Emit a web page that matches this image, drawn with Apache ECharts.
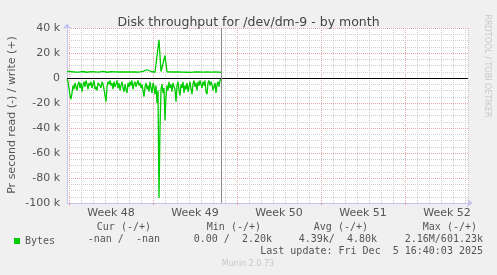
<!DOCTYPE html>
<html><head><meta charset="utf-8">
<script src="https://cdn.jsdelivr.net/npm/echarts@6/dist/echarts.min.js"></script>
<style>html,body{margin:0;padding:0;background:#f0f0f0}#c{width:497px;height:275px}</style>
</head><body><div id="c"></div>
<script>
// ---- data (k = thousands of bytes per second), days relative to start of Week 48 ----
const readStartDay = -1/6;
const readStepDay = 1/12;     // 2-hour samples
const readK = [
  -1,-3,-8,-14,-17,-12,
  -6,-9,-4,-7,-10,-5,-3,-8,
  -4,-11,-6,-3,-7,-2,-5,-9,-4,-6,
  -3,-8,-5,-2,-9,-7,-10,-4,-3,-6,
  -8,-3,-5,-9,-14,-19,-7,-3,-5,-2,
  -6,-4,-9,-3,-7,-5,-2,-8,-4,-10,
  -6,-3,-8,-11,-5,-9,-12,-4,-7,-3,
  -6,-2,-9,-5,-3,-7,-4,-2,-6,-4,
  -8,-5,-10,-15,-7,-4,-9,-6,-11,-3,
  -8,-12,-4,-7,-13,-6,-20,-10,-96,-40,
  -9,-5,-12,-8,-34,-15,-6,-10,-3,-8,
  -5,-11,-4,-7,-9,-19,-6,-3,-10,-14,
  -5,-8,-3,-12,-6,-9,-4,-11,-7,-3,
  -9,-13,-5,-2,-7,-4,-10,-3,-6,-2,
  -5,-8,-3,-6,-2,-11,-13,-4,-2,-6,
  -3,-5,-10,-7,-4,-12,-5,-3,-7,-2,-1
];
const writeStartDay = -1/6;
const writeStepDay = 1/6;     // 4-hour samples
const writeK = [5.2,5.0,5.1,4.9,4.8,5.0,4.7,4.9,5.2,4.8,4.6,4.9,5.1,4.8,4.9,5.0,4.7,4.8,5.3,4.9,4.6,4.8,5.0,4.7,4.9,5.1,4.8,4.7,4.9,5.0,4.8,4.6,4.9,5.1,4.8,4.9,4.7,5.0,5.3,5.8,6.6,6.2,5.2,4.9,4.6,5.5,30.5,5.2,4.9,18.0,5.0,4.6,4.8,4.7,4.9,4.6,4.8,4.5,4.7,4.9,4.6,4.8,4.5,4.7,4.9,4.6,4.8,4.5,4.7,4.6,4.8,4.5,4.7,4.6,4.8,4.5,4.7,4.6];
const nowDay = 12.667;
const weekLabels = ['Week 48','Week 49','Week 50','Week 51','Week 52'];
const yTicks = [40000,20000,0,-20000,-40000,-60000,-80000,-100000];
const colHeaders = ['Cur (-/+)','Min (-/+)','Avg (-/+)','Max (-/+)'];
const colValues = ['-nan /  -nan','0.00 /  2.20k','4.39k/  4.80k','2.16M/601.23k'];
const lastUpdate = 'Last update: Fri Dec  5 16:40:03 2025';

const readData = readK.map((v,i)=>[readStartDay+i*readStepDay, v*1000]);
const writeData = writeK.map((v,i)=>[writeStartDay+i*writeStepDay, v*1000]);

const RED = '#e8a4a4', GRAY = '#cfcfcf', TXT = '#555', GREEN = '#00cc00';
const headerRight = [151,261,368,477];
const valueRight = [160,272,377,483];

const chart = echarts.init(document.getElementById('c'), null, {renderer:'canvas'});
const graphics = [];
colHeaders.forEach((t,i)=>graphics.push({type:'text',right:497-headerRight[i],top:222,style:{text:t,font:'10px "DejaVu Sans Mono"',fill:TXT}}));
colValues.forEach((t,i)=>graphics.push({type:'text',right:497-valueRight[i],top:234,style:{text:t,font:'10px "DejaVu Sans Mono"',fill:TXT}}));
graphics.push({type:'text',right:497-483,top:246,style:{text:lastUpdate,font:'10px "DejaVu Sans Mono"',fill:TXT}});
graphics.push({type:'text',x:248,y:264,style:{text:'Munin 2.0.73',font:'8px "DejaVu Sans"',fill:'#c8c8c8',textAlign:'center',textVerticalAlign:'middle'}});
graphics.push({type:'text',x:12,y:115,rotation:Math.PI/2,style:{text:'Pr second read (-) / write (+)',font:'11px "DejaVu Sans"',fill:TXT,textAlign:'center',textVerticalAlign:'middle'}});
graphics.push({type:'text',x:487,y:66,rotation:-Math.PI/2,style:{text:'RRDTOOL / TOBI OETIKER',font:'8px "DejaVu Sans"',fill:'#c8c8c8',textAlign:'center',textVerticalAlign:'middle'}});

const yColors = [RED,GRAY,GRAY,GRAY];
const xColors = [RED,GRAY,GRAY,GRAY,GRAY,GRAY,GRAY];
const arrowLine = {show:true,onZero:false,lineStyle:{color:'#c4c4ee',width:1},symbol:['none','arrow'],symbolSize:[6,6],symbolOffset:[0,5]};

chart.setOption({
  backgroundColor:'#f0f0f0',
  animation:false,
  title:{text:'Disk throughput for /dev/dm-9 - by month',left:'center',top:11,textStyle:{fontFamily:'DejaVu Sans',fontSize:12.5,fontWeight:'normal',color:'#444'}},
  legend:{data:['Bytes'],left:9,top:231,icon:'rect',itemWidth:6,itemHeight:6,itemGap:5,textStyle:{fontFamily:'DejaVu Sans Mono',fontSize:10,color:TXT},selectedMode:false},
  grid:[
    {left:67,width:401,top:28,height:175,show:true,backgroundColor:'#fff',borderWidth:0},
    {left:69,width:399,top:28,height:175,show:false},
    {left:111,width:357,top:28,height:175,show:false}
  ],
  xAxis:[
    {type:'value',gridIndex:0,min:-1/6,max:33.25,axisLabel:{show:false},axisTick:{show:false},splitLine:{show:false},axisLine:arrowLine,z:3},
    {type:'value',gridIndex:1,min:0,max:33.25,interval:1,axisLine:{show:false},axisTick:{show:false},axisLabel:{show:false},
     splitLine:{show:true,lineStyle:{type:[1,1],color:xColors,width:1}},z:1},
    {type:'value',gridIndex:2,min:0,max:29.75,interval:7,axisLine:{show:false},axisTick:{show:false},splitLine:{show:false},
     axisLabel:{show:true,showMaxLabel:false,hideOverlap:false,formatter:(v)=>(v%7===0?weekLabels[v/7]:''),fontFamily:'DejaVu Sans',fontSize:11,color:TXT,margin:5}},
    {type:'value',gridIndex:1,position:'bottom',min:0,max:33.25,interval:7,axisLine:{show:false},axisLabel:{show:false},splitLine:{show:false},
     axisTick:{show:true,length:2,lineStyle:{color:'#e08080'}}}
  ],
  yAxis:[
    {type:'value',gridIndex:0,min:-100000,max:40000,interval:5000,axisLine:arrowLine,axisTick:{show:false},z:3,
     axisLabel:{fontFamily:'DejaVu Sans',fontSize:11,color:TXT,margin:7,
       formatter:(v)=>yTicks.indexOf(v)<0?'':(v===0?'0':(v/1000)+' k')},
     splitLine:{show:true,lineStyle:{type:[1,1],color:yColors,width:1}}},
    {type:'value',gridIndex:1,min:-100000,max:40000,show:false,splitLine:{show:false}},
    {type:'value',gridIndex:2,min:-100000,max:40000,show:false,splitLine:{show:false}}
  ],
  graphic:graphics,
  series:[
    {name:'Read',type:'line',xAxisIndex:0,yAxisIndex:0,data:readData,showSymbol:false,symbol:'none',
     lineStyle:{color:GREEN,width:1.3},itemStyle:{color:GREEN},z:3,
     markLine:{silent:true,symbol:'none',label:{show:false},animation:false,
       data:[{yAxis:0,lineStyle:{color:'#000',width:1,type:'solid'}},{xAxis:nowDay,lineStyle:{color:'#888',width:1,type:'solid'}}]}},
    {name:'Bytes',type:'line',xAxisIndex:0,yAxisIndex:0,data:writeData,showSymbol:false,symbol:'none',
     lineStyle:{color:GREEN,width:1.3},itemStyle:{color:GREEN},z:3}
  ]
});
</script></body></html>
